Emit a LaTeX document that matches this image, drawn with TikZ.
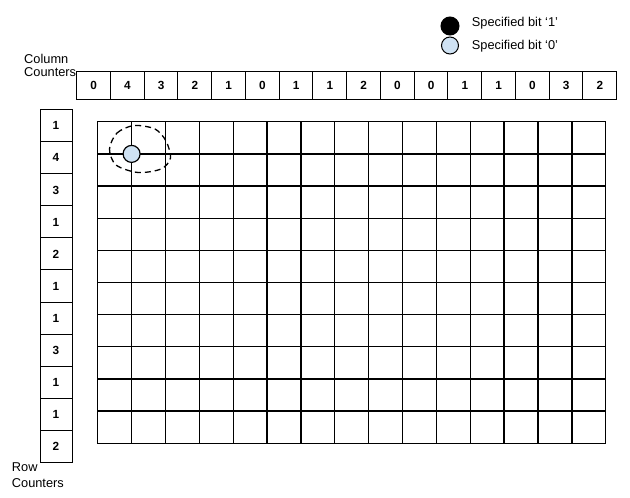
\documentclass[tikz,border=0pt]{standalone}
\usepackage{fontspec}
\setmainfont{Liberation Sans}
\usetikzlibrary{positioning}
\definecolor{bitzero}{RGB}{207,226,243}
\tikzset{
  counter/.style={draw,line width=1pt,minimum width=33.75pt,minimum height=28pt,inner sep=0pt,
    text height=8.4pt,text depth=0pt,font=\fontsize{11.8}{11.8}\selectfont\bfseries},
  rowcounter/.style={counter,minimum width=32pt,minimum height=32.05pt},
  lbltext/.style={inner sep=0pt,anchor=base west,font=\fontsize{12.8}{13}\selectfont},
  gridline/.style={line width=1.3pt,line cap=rect},
  onebit/.style={draw,fill=black,circle,inner sep=0pt,minimum size=18pt,line width=1pt},
  zerobit/.style={draw,fill=bitzero,circle,inner sep=0pt,minimum size=17pt,line width=1.2pt},
}
\begin{document}
\begin{tikzpicture}[x=1pt,y=-1pt]
\useasboundingbox (0,0) rectangle (630,498);

% legend
\node[onebit] (leg1) at (450,26) {};
\node[zerobit,line width=1pt] (leg0) at (450,45.5) {};
\node[lbltext] (leg1txt) at (471.7,26.7) {Specified bit `1'};
\node[lbltext] (leg0txt) at (471.7,49.3) {Specified bit `0'};

% counters
\node[lbltext] (colhead) at (24,63.3) {Column};
\node[lbltext] (colhead2) at ([yshift=-13.4pt]colhead.base west) {Counters};
\foreach \v [count=\i] in {0,4,3,2,1,0,1,1,2,0,0,1,1,0,3,2}
  \node[counter] (cc\i) at ({76.7+33.75*(\i-0.5)},85) {\v};
\foreach \v [count=\i] in {1,4,3,1,2,1,1,3,1,1,2}
  \node[rowcounter] (rc\i) at (56,{109.7+32.05*(\i-0.5)}) {\v};
\node[lbltext] (rowhead) at (11.7,471.7) {Row};
\node[lbltext] (rowhead2) at ([yshift=-15.6pt]rowhead.base west) {Counters};

% grid
\coordinate (G) at (97.7,121.7);
\foreach \c in {0,...,15}
  \draw[gridline] ([xshift={33.87*\c}]G) -- ++(0,321.6);
\foreach \r in {0,...,10}
  \draw[gridline] ([yshift={-32.16*\r}]G) -- ++(508,0);

% specified bit and its neighbourhood
\draw[line width=1.3pt,dash pattern=on 6pt off 4pt]
  plot[smooth cycle] coordinates {(109.5,149) (117,133) (134,125.5) (155,129) (166,141) (170.5,158) (161,169) (138,172.5) (116,165)};
\node[zerobit] (spec) at (131.6,153.9) {};
\end{tikzpicture}
\end{document}
